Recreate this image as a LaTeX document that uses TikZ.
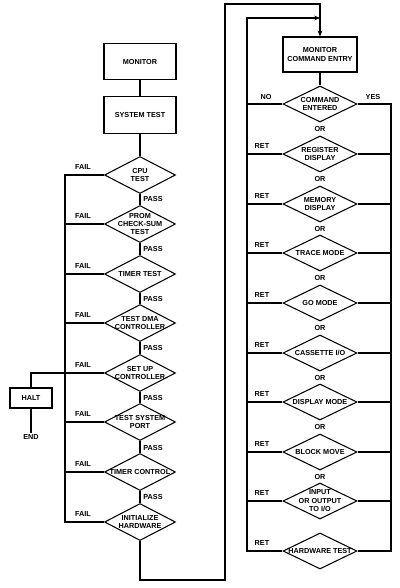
\documentclass[tikz,border=0pt]{standalone}
\usepackage{fontspec}
\setmainfont{Liberation Sans}
\usepackage{tikz}
\usetikzlibrary{shapes.geometric,arrows.meta}
\tikzset{
	box/.style={draw, rectangle, minimum width=2.16cm, minimum height=1.1cm, align=center},
	test/.style={draw, diamond, inner sep=0pt, minimum width=2.13cm, minimum height=1.11cm},
	choice/.style={draw, diamond, inner sep=0pt, minimum width=2.22cm, minimum height=1.08cm},
	every label/.style={align=center, inner sep=0pt},
	tag/.style={inner sep=1pt}
}

\begin{document}
\begin{tikzpicture}[x=0.03cm, y=-0.03cm, line width=0.9pt, font=\fontsize{6.2}{7.2}\selectfont\bfseries, >={Stealth[length=5pt, width=4pt]}]
\useasboundingbox (0,0) rectangle (400,588);
\node[box] (0) at (140,61.5) {MONITOR};
\node[box] (1) at (140,115) {SYSTEM TEST};
\node[test, label={center:{CPU\\TEST}}] (2) at (140,175) {};
\node[test, label={center:{PROM\\CHECK-SUM\\TEST}}] (3) at (140,224) {};
\node[test, label={center:{TIMER TEST}}] (4) at (140,274) {};
\node[test, label={center:{TEST DMA\\CONTROLLER}}] (5) at (140,323) {};
\node[test, label={center:{SET UP\\CONTROLLER}}] (6) at (140,373) {};
\node[test, label={center:{TEST SYSTEM\\PORT}}] (7) at (140,422) {};
\node[test, label={center:{TIMER CONTROL}}] (8) at (140,472) {};
\node[test, label={center:{INITIALIZE\\HARDWARE}}] (9) at (140,522) {};
\node[box, minimum width=1.26cm, minimum height=0.6cm] (10) at (31,398) {HALT};
\node[tag] (11) at (31,437) {END};
\node[box, minimum width=2.22cm, minimum height=1.05cm] (12) at (320,54.5) {MONITOR\\COMMAND ENTRY};
\node[choice, label={center:{COMMAND\\ENTERED}}] (13) at (320,104) {};
\node[choice, label={center:{REGISTER\\DISPLAY}}] (14) at (320,154) {};
\node[choice, label={center:{MEMORY\\DISPLAY}}] (15) at (320,204) {};
\node[choice, label={center:{TRACE MODE}}] (16) at (320,253) {};
\node[choice, label={center:{GO MODE}}] (17) at (320,303) {};
\node[choice, label={center:{CASSETTE I/O}}] (18) at (320,353) {};
\node[choice, label={center:{DISPLAY MODE}}] (19) at (320,402) {};
\node[choice, label={center:{BLOCK MOVE}}] (20) at (320,452) {};
\node[choice, label={center:{INPUT\\OR OUTPUT\\TO I/O}}] (21) at (320,501) {};
\node[choice, label={center:{HARDWARE TEST}}] (22) at (320,551) {};
\coordinate (f) at (65,0);
\coordinate (b) at (225,580);
\coordinate (t) at (225,4);
\coordinate (r) at (247,18);
\coordinate (y) at (391,0);
\node[tag] (f2) at (83,167) {FAIL};
\node[tag] (f3) at (83,216) {FAIL};
\node[tag] (f4) at (83,266) {FAIL};
\node[tag] (f5) at (83,315) {FAIL};
\node[tag] (f6) at (83,365) {FAIL};
\node[tag] (f7) at (83,414) {FAIL};
\node[tag] (f8) at (83,464) {FAIL};
\node[tag] (f9) at (83,514) {FAIL};
\node[tag] (p3) at (153,199) {PASS};
\node[tag] (p4) at (153,249) {PASS};
\node[tag] (p5) at (153,299) {PASS};
\node[tag] (p6) at (153,348) {PASS};
\node[tag] (p7) at (153,398) {PASS};
\node[tag] (p8) at (153,448) {PASS};
\node[tag] (p9) at (153,497) {PASS};
\node[tag] (no) at (266,97) {NO};
\node[tag] (yes) at (373,97) {YES};
\node[tag] (r14) at (262,146) {RET};
\node[tag] (r15) at (262,196) {RET};
\node[tag] (r16) at (262,245) {RET};
\node[tag] (r17) at (262,295) {RET};
\node[tag] (r18) at (262,345) {RET};
\node[tag] (r19) at (262,394) {RET};
\node[tag] (r20) at (262,444) {RET};
\node[tag] (r21) at (262,493) {RET};
\node[tag] (r22) at (262,543) {RET};
\node[tag] (o14) at (320,129) {OR};
\node[tag] (o15) at (320,179) {OR};
\node[tag] (o16) at (320,228.5) {OR};
\node[tag] (o17) at (320,278) {OR};
\node[tag] (o18) at (320,328) {OR};
\node[tag] (o19) at (320,377.5) {OR};
\node[tag] (o20) at (320,427) {OR};
\node[tag] (o21) at (320,476.5) {OR};
\draw (0) -- (1) -- (2) -- (3) -- (4) -- (5) -- (6) -- (7) -- (8) -- (9);
\draw (2.west) -- (2.west -| f) -- (9.west -| f) -- (9.west);
\draw (3.west) -- (3.west -| f);
\draw (4.west) -- (4.west -| f);
\draw (5.west) -- (5.west -| f);
\draw (6.west) -- (6.west -| f) -| (10.north);
\draw (7.west) -- (7.west -| f);
\draw (8.west) -- (8.west -| f);
\draw (10.south) -- (11.north);
\draw[->] (9.south) |- (b) -- (t) -| (12.north);
\draw (12) -- (13);
\draw[->] (22.west) -| (r) -- (r -| 12);
\draw (13.west) -- (13.west -| r);
\draw (14.west) -- (14.west -| r);
\draw (15.west) -- (15.west -| r);
\draw (16.west) -- (16.west -| r);
\draw (17.west) -- (17.west -| r);
\draw (18.west) -- (18.west -| r);
\draw (19.west) -- (19.west -| r);
\draw (20.west) -- (20.west -| r);
\draw (21.west) -- (21.west -| r);
\draw (13.east) -- (13.east -| y) -- (22.east -| y) -- (22.east);
\draw (14.east) -- (14.east -| y);
\draw (15.east) -- (15.east -| y);
\draw (16.east) -- (16.east -| y);
\draw (17.east) -- (17.east -| y);
\draw (18.east) -- (18.east -| y);
\draw (19.east) -- (19.east -| y);
\draw (20.east) -- (20.east -| y);
\draw (21.east) -- (21.east -| y);
\end{tikzpicture}
\end{document}
